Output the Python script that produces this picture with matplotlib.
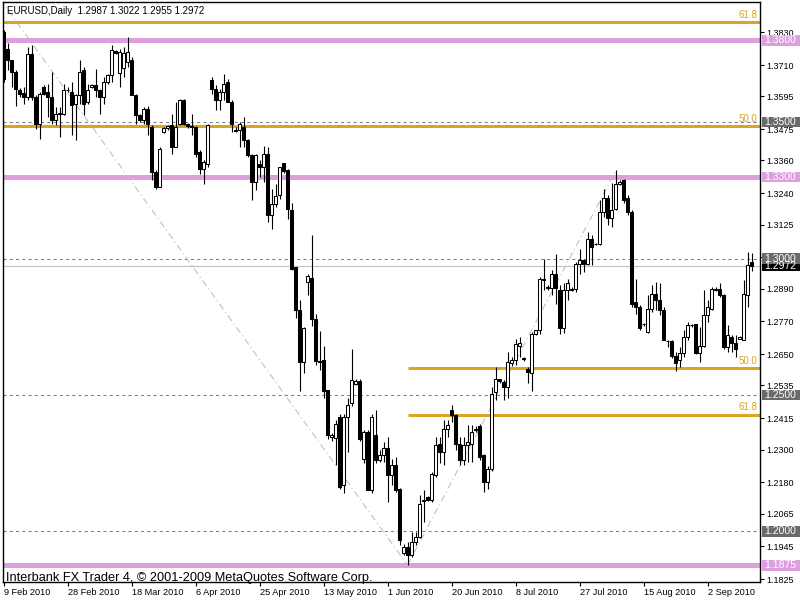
import matplotlib
matplotlib.use("Agg")
import matplotlib.pyplot as plt
from matplotlib.patches import Rectangle
from matplotlib.transforms import blended_transform_factory

# ==========================
# Data: EURUSD daily candles
# ==========================
opens = [1.3831, 1.3770, 1.3727, 1.3684, 1.3620, 1.3607, 1.3593, 1.3751, 1.3593, 1.3495,
         1.3629, 1.3611, 1.3593, 1.3507, 1.3532, 1.3532, 1.3617, 1.3611, 1.3568, 1.3599,
         1.3690, 1.3574, 1.3628, 1.3638, 1.3619, 1.3593, 1.3648, 1.3672, 1.3761, 1.3680,
         1.3700, 1.3721, 1.3727, 1.3599, 1.3525, 1.3507, 1.3550, 1.3483, 1.3318, 1.3263,
         1.3464, 1.3480, 1.3489, 1.3409, 1.3495, 1.3580, 1.3495, 1.3485, 1.3483, 1.3391,
         1.3330, 1.3348, 1.3654, 1.3623, 1.3580, 1.3611, 1.3648, 1.3574, 1.3473, 1.3471,
         1.3483, 1.3434, 1.3379, 1.3281, 1.3348, 1.3336, 1.3385, 1.3160, 1.3200, 1.3232,
         1.3352, 1.3324, 1.3180, 1.2970, 1.2813, 1.2621, 1.2915, 1.2930, 1.2780, 1.2625,
         1.2627, 1.2517, 1.2347, 1.2344, 1.2420, 1.2170, 1.2420, 1.2470, 1.2540, 1.2550,
         1.2265, 1.2365, 1.2150, 1.2353, 1.2261, 1.2280, 1.2304, 1.2206, 1.2243, 1.2157,
         1.1919, 1.1943, 1.1913, 1.1962, 1.1980, 1.2110, 1.2127, 1.2115, 1.2206, 1.2322,
         1.2292, 1.2377, 1.2444, 1.2426, 1.2322, 1.2261, 1.2316, 1.2322, 1.2370, 1.2385,
         1.2280, 1.2182, 1.2230, 1.2511, 1.2557, 1.2548, 1.2530, 1.2616, 1.2627, 1.2680,
         1.2637, 1.2597, 1.2581, 1.2725, 1.2737, 1.2921, 1.2894, 1.2894, 1.2943, 1.2884,
         1.2744, 1.2884, 1.2890, 1.2890, 1.2982, 1.2994, 1.2982, 1.3073, 1.3055, 1.3055,
         1.3171, 1.3222, 1.3149, 1.3182, 1.3275, 1.3288, 1.3222, 1.3171, 1.2841, 1.2823,
         1.2759, 1.2731, 1.2817, 1.2872, 1.2847, 1.2811, 1.2698, 1.2698, 1.2642, 1.2627,
         1.2654, 1.2713, 1.2756, 1.2759, 1.2654, 1.2680, 1.2792, 1.2817, 1.2884, 1.2887,
         1.2868, 1.2676, 1.2713, 1.2691, 1.2707, 1.2701, 1.2868, 1.2987]
highs = [1.3840, 1.3790, 1.3730, 1.3690, 1.3627, 1.3629, 1.3776, 1.3782, 1.3599, 1.3611,
         1.3635, 1.3642, 1.3684, 1.3556, 1.3556, 1.3642, 1.3629, 1.3648, 1.3605, 1.3727,
         1.3703, 1.3642, 1.3640, 1.3697, 1.3623, 1.3666, 1.3678, 1.3782, 1.3764, 1.3770,
         1.3776, 1.3813, 1.3739, 1.3605, 1.3530, 1.3556, 1.3558, 1.3489, 1.3324, 1.3409,
         1.3483, 1.3490, 1.3532, 1.3574, 1.3586, 1.3586, 1.3497, 1.3532, 1.3485, 1.3397,
         1.3360, 1.3495, 1.3666, 1.3635, 1.3623, 1.3678, 1.3660, 1.3580, 1.3483, 1.3501,
         1.3519, 1.3440, 1.3385, 1.3385, 1.3360, 1.3412, 1.3410, 1.3257, 1.3272, 1.3336,
         1.3352, 1.3330, 1.3204, 1.2970, 1.2850, 1.2750, 1.2943, 1.3086, 1.2796, 1.2734,
         1.2679, 1.2520, 1.2360, 1.2408, 1.2430, 1.2430, 1.2490, 1.2667, 1.2560, 1.2560,
         1.2370, 1.2370, 1.2430, 1.2444, 1.2298, 1.2328, 1.2347, 1.2267, 1.2273, 1.2160,
         1.1955, 1.1960, 1.1998, 1.1998, 1.2133, 1.2151, 1.2130, 1.2218, 1.2347, 1.2347,
         1.2408, 1.2408, 1.2463, 1.2432, 1.2347, 1.2347, 1.2389, 1.2389, 1.2385, 1.2395,
         1.2285, 1.2240, 1.2530, 1.2603, 1.2560, 1.2554, 1.2658, 1.2640, 1.2707, 1.2713,
         1.2640, 1.2603, 1.2731, 1.2740, 1.2933, 1.3000, 1.2902, 1.2957, 1.3018, 1.2902,
         1.2909, 1.2927, 1.2895, 1.2988, 1.3037, 1.3000, 1.3098, 1.3086, 1.3058, 1.3214,
         1.3254, 1.3232, 1.3278, 1.3325, 1.3290, 1.3292, 1.3232, 1.3180, 1.2927, 1.2830,
         1.2765, 1.2866, 1.2902, 1.2915, 1.2909, 1.2823, 1.2700, 1.2700, 1.2658, 1.2676,
         1.2737, 1.2768, 1.2762, 1.2762, 1.2750, 1.2884, 1.2847, 1.2896, 1.2896, 1.2909,
         1.2870, 1.2756, 1.2719, 1.2719, 1.2716, 1.2921, 1.3025, 1.3022]
lows = [1.3648, 1.3690, 1.3631, 1.3558, 1.3593, 1.3568, 1.3580, 1.3580, 1.3477, 1.3440,
        1.3599, 1.3519, 1.3495, 1.3489, 1.3446, 1.3525, 1.3611, 1.3452, 1.3434, 1.3568,
        1.3525, 1.3568, 1.3625, 1.3593, 1.3532, 1.3568, 1.3642, 1.3648, 1.3750, 1.3629,
        1.3666, 1.3703, 1.3599, 1.3495, 1.3500, 1.3495, 1.3452, 1.3287, 1.3257, 1.3263,
        1.3460, 1.3470, 1.3385, 1.3409, 1.3489, 1.3489, 1.3480, 1.3452, 1.3373, 1.3312,
        1.3275, 1.3336, 1.3605, 1.3544, 1.3544, 1.3580, 1.3574, 1.3464, 1.3464, 1.3409,
        1.3409, 1.3373, 1.3214, 1.3250, 1.3300, 1.3281, 1.3135, 1.3110, 1.3190, 1.3220,
        1.3315, 1.3147, 1.2957, 1.2784, 1.2515, 1.2581, 1.2866, 1.2752, 1.2610, 1.2590,
        1.2490, 1.2340, 1.2330, 1.2243, 1.2157, 1.2139, 1.2292, 1.2460, 1.2535, 1.2330,
        1.2250, 1.2150, 1.2140, 1.2249, 1.2255, 1.2255, 1.2108, 1.2170, 1.2145, 1.1950,
        1.1913, 1.1876, 1.1907, 1.1950, 1.1974, 1.2035, 1.2110, 1.2108, 1.2200, 1.2249,
        1.2243, 1.2347, 1.2400, 1.2298, 1.2243, 1.2243, 1.2255, 1.2255, 1.2365, 1.2260,
        1.2145, 1.2157, 1.2220, 1.2481, 1.2545, 1.2480, 1.2490, 1.2605, 1.2610, 1.2640,
        1.2625, 1.2544, 1.2515, 1.2720, 1.2725, 1.2884, 1.2884, 1.2866, 1.2835, 1.2725,
        1.2728, 1.2847, 1.2880, 1.2878, 1.2945, 1.2951, 1.2976, 1.2976, 1.3050, 1.3049,
        1.3154, 1.3122, 1.3117, 1.3180, 1.3270, 1.3205, 1.3160, 1.2823, 1.2798, 1.2737,
        1.2752, 1.2728, 1.2805, 1.2811, 1.2792, 1.2701, 1.2676, 1.2637, 1.2588, 1.2603,
        1.2640, 1.2701, 1.2750, 1.2651, 1.2621, 1.2676, 1.2768, 1.2811, 1.2880, 1.2860,
        1.2670, 1.2658, 1.2658, 1.2640, 1.2704, 1.2701, 1.2823, 1.2955]
closes = [1.3660, 1.3730, 1.3684, 1.3623, 1.3605, 1.3593, 1.3751, 1.3593, 1.3495, 1.3605,
          1.3605, 1.3593, 1.3507, 1.3532, 1.3535, 1.3617, 1.3620, 1.3562, 1.3599, 1.3684,
          1.3568, 1.3617, 1.3635, 1.3619, 1.3593, 1.3648, 1.3672, 1.3764, 1.3754, 1.3758,
          1.3755, 1.3758, 1.3599, 1.3525, 1.3507, 1.3550, 1.3495, 1.3318, 1.3263, 1.3403,
          1.3478, 1.3485, 1.3409, 1.3483, 1.3580, 1.3495, 1.3485, 1.3482, 1.3385, 1.3330,
          1.3354, 1.3489, 1.3623, 1.3580, 1.3611, 1.3642, 1.3574, 1.3495, 1.3469, 1.3495,
          1.3434, 1.3379, 1.3281, 1.3379, 1.3336, 1.3385, 1.3160, 1.3199, 1.3230, 1.3336,
          1.3321, 1.3183, 1.2963, 1.2813, 1.2621, 1.2747, 1.2935, 1.2780, 1.2624, 1.2622,
          1.2515, 1.2353, 1.2352, 1.2393, 1.2163, 1.2420, 1.2463, 1.2554, 1.2550, 1.2340,
          1.2365, 1.2150, 1.2420, 1.2261, 1.2280, 1.2304, 1.2206, 1.2243, 1.2151, 1.1968,
          1.1943, 1.1913, 1.1962, 1.1980, 1.2102, 1.2116, 1.2115, 1.2212, 1.2316, 1.2292,
          1.2377, 1.2390, 1.2426, 1.2322, 1.2261, 1.2316, 1.2328, 1.2365, 1.2377, 1.2273,
          1.2182, 1.2230, 1.2505, 1.2560, 1.2550, 1.2530, 1.2621, 1.2627, 1.2688, 1.2690,
          1.2632, 1.2585, 1.2725, 1.2737, 1.2924, 1.2927, 1.2896, 1.2943, 1.2894, 1.2744,
          1.2884, 1.2909, 1.2884, 1.2982, 1.2994, 1.2982, 1.3073, 1.3043, 1.3055, 1.3171,
          1.3221, 1.3149, 1.3178, 1.3274, 1.3281, 1.3215, 1.3172, 1.2835, 1.2821, 1.2744,
          1.2759, 1.2817, 1.2872, 1.2847, 1.2811, 1.2701, 1.2698, 1.2642, 1.2618, 1.2654,
          1.2713, 1.2756, 1.2756, 1.2654, 1.2680, 1.2792, 1.2823, 1.2890, 1.2890, 1.2866,
          1.2676, 1.2719, 1.2691, 1.2670, 1.2713, 1.2872, 1.2976, 1.2972]

date_labels = ["9 Feb 2010", "28 Feb 2010", "18 Mar 2010", "6 Apr 2010", "25 Apr 2010",
               "13 May 2010", "1 Jun 2010", "20 Jun 2010", "8 Jul 2010", "27 Jul 2010",
               "15 Aug 2010", "2 Sep 2010"]
date_bars = [0, 16, 32, 48, 64, 80, 96, 112, 128, 144, 160, 176]

price_ticks = [1.3830, 1.3710, 1.3595, 1.3475, 1.3360, 1.3240, 1.3125, 1.3005, 1.2890,
               1.2770, 1.2650, 1.2535, 1.2415, 1.2300, 1.2180, 1.2065, 1.1945, 1.1825]

pink_levels = [1.3800, 1.3300, 1.1875]
round_levels = [1.3500, 1.3000, 1.2500, 1.2000]
last_price = 1.2972
symbol_title = "EURUSD,Daily  1.2987 1.3022 1.2955 1.2972"
copyright_txt = "Interbank FX Trader 4, \u00a9 2001-2009 MetaQuotes Software Corp."

# fibonacci: (bar1, price1, bar2, price2)
fibos = [(-57, 1.5096, 101, 1.1876),
         (101, 1.1876, 153, 1.3320)]
fib_ratios = [0.5, 0.618]

# ==========================
# Figure
# ==========================
plt.rcParams['font.family'] = ['Liberation Sans', 'DejaVu Sans']

PINK = "#dda0dd"
GOLD = "#daa520"
GREY = "#808080"

fig = plt.figure(figsize=(8, 6), dpi=100)
ax = fig.add_axes([3 / 800, 18 / 600, 757 / 800, 580 / 600])
xmin, xmax = -0.125, 189.125
ax.set_xlim(xmin, xmax)
ax.set_ylim(1.18142, 1.39411)
yx = blended_transform_factory(ax.transAxes, ax.transData)

# horizontal lines
for lv in round_levels:
    ax.axhline(lv, color=GREY, lw=0.75, ls=(0, (3, 3)), zorder=1)
ax.axhline(last_price, color="#c0c0c0", lw=0.8, zorder=1)
for lv in pink_levels:
    ax.axhline(lv, color=PINK, lw=3.6, zorder=1.5)

# fibonacci retracements
for b1, p1, b2, p2 in fibos:
    ax.plot([b1, b2], [p1, p2], color="#c0c0c0", lw=0.8, ls=(0, (6, 3, 1, 3)), zorder=1)
    start = max(min(b1, b2), xmin)
    for r in fib_ratios:
        lv = p2 + r * (p1 - p2)
        ax.plot([start, xmax], [lv, lv], color=GOLD, lw=2.2, solid_capstyle='butt', zorder=1.6)
        ax.text(0.996, lv + 0.0009, "%.1f" % (r * 100), transform=yx, ha='right', va='bottom',
                color=GOLD, fontsize=7, zorder=2)

# candles
bars = range(len(opens))
ax.vlines(bars, lows, highs, color='black', lw=0.8, zorder=3)
for i in bars:
    o, c = opens[i], closes[i]
    face = 'white' if c >= o else 'black'
    ax.bar(i, abs(c - o), bottom=min(o, c), width=0.55, color=face,
           edgecolor='black', linewidth=0.75, zorder=4)

# axes look
for s in ax.spines.values():
    s.set_color('black')
    s.set_linewidth(1)
ax.yaxis.tick_right()
ax.set_yticks(price_ticks)
ax.set_yticklabels(["%.4f" % t for t in price_ticks])
ax.set_xticks(date_bars)
ax.set_xticklabels(date_labels)
for lab in ax.get_xticklabels():
    lab.set_ha('left')
ax.tick_params(axis='y', direction='out', length=3, width=0.8, labelsize=6.5, pad=1.5)
ax.tick_params(axis='x', direction='out', length=3, width=0.8, labelsize=6.6, pad=1.5)

# price label boxes on the right
def price_box(price, color, txt_color='white'):
    ax.add_patch(Rectangle((1.0026, price - 0.0019), 0.06, 0.0038, transform=yx,
                           facecolor=color, edgecolor='none', clip_on=False, zorder=6))
    ax.text(1.006, price, "%.4f" % price, transform=yx, ha='left', va='center',
            color=txt_color, fontsize=7.5, clip_on=False, zorder=7)

price_box(last_price, 'black')
for lv in round_levels:
    price_box(lv, "#6a6a6a")
for lv in pink_levels:
    price_box(lv, PINK)

# texts
fig.text(7 / 800, 1 - 11 / 600, symbol_title, ha='left', va='center', fontsize=7)
fig.text(6 / 800, 19.5 / 600, copyright_txt, ha='left', va='baseline', fontsize=9.2)

fig.savefig("out.png", dpi=100)
